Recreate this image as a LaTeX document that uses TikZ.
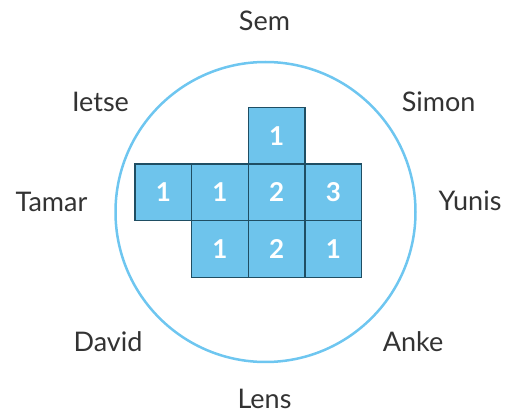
\documentclass[tikz,border=0pt]{standalone}
\usepackage{fontspec}
\setmainfont{Lato}
\definecolor{cellfill}{HTML}{6EC4EC}
\definecolor{celledge}{HTML}{1F4E63}
\definecolor{ringcol}{HTML}{6EC6F0}
\definecolor{txtcol}{HTML}{333333}
\begin{document}
\begin{tikzpicture}[x=1pt,y=-1pt,
  cell/.style={draw=celledge,fill=cellfill,line width=1.2pt,minimum size=56.7pt,inner sep=0pt,
    text=white,font=\fontsize{26}{30}\selectfont\bfseries},
  person/.style={anchor=base,text=txtcol,font=\fontsize{27}{30}\selectfont,inner sep=0pt}]
\useasboundingbox (0,0) rectangle (507,414);
\node[draw=ringcol,line width=2.5pt,circle,minimum size=300pt,inner sep=0pt] (ring) at (265.5,212) {};
\node[cell] (c31) at (276.7,135.7) {1};
\node[cell] (c12) at (163.3,192.3) {1};
\node[cell] (c22) at (220,192.3) {1};
\node[cell] (c32) at (276.7,192.3) {2};
\node[cell] (c42) at (333.3,192.3) {3};
\node[cell] (c23) at (220,249) {1};
\node[cell] (c33) at (276.7,249) {2};
\node[cell] (c43) at (333.3,249) {1};
\node[person] (sem) at (264.5,31) {Sem};
\node[person] (ietse) at (100.5,112) {Ietse};
\node[person] (simon) at (438.7,111.7) {Simon};
\node[person] (tamar) at (51.5,211.7) {Tamar};
\node[person] (yunis) at (470,210.5) {Yunis};
\node[person] (david) at (108,351.7) {David};
\node[person] (anke) at (413,352) {Anke};
\node[person] (lens) at (264.5,408.5) {Lens};
\end{tikzpicture}
\end{document}
